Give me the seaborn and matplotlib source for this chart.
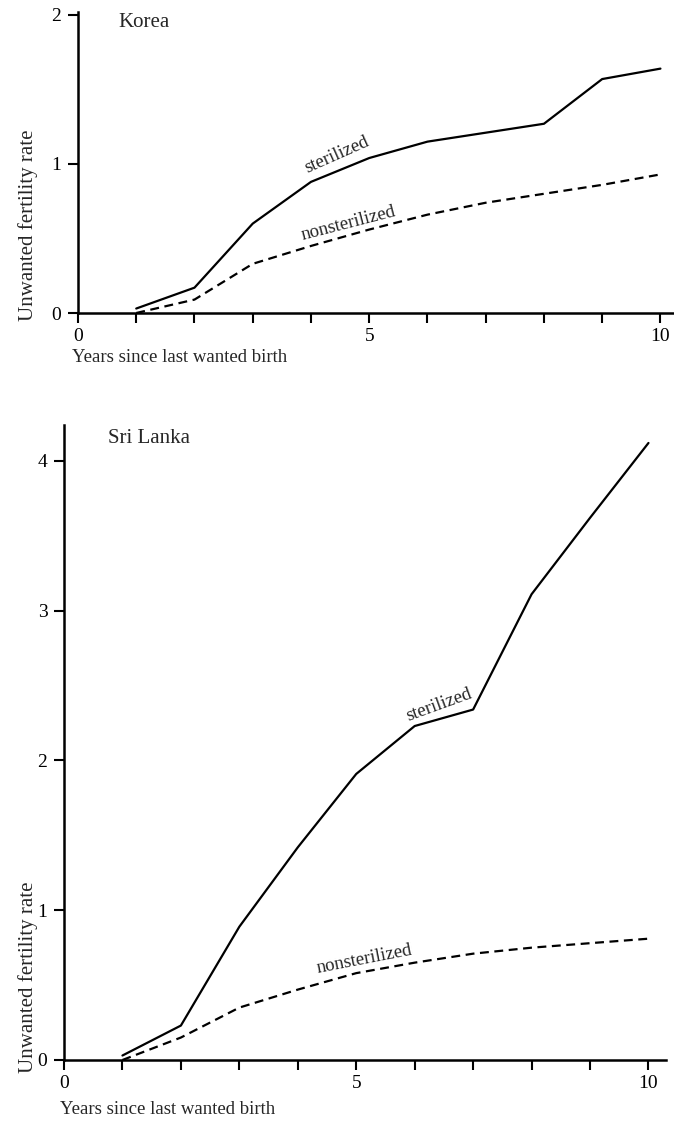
import pandas as pd
import matplotlib
matplotlib.use("Agg")
import matplotlib.pyplot as plt
import seaborn as sns

# Data
years = [1, 2, 3, 4, 5, 6, 7, 8, 9, 10]
korea_sterilized = [0.03, 0.17, 0.60, 0.88, 1.04, 1.15, 1.21, 1.27, 1.57, 1.64]
korea_nonsterilized = [0.0, 0.09, 0.33, 0.45, 0.56, 0.66, 0.74, 0.80, 0.86, 0.93]
srilanka_sterilized = [0.03, 0.23, 0.89, 1.42, 1.91, 2.23, 2.34, 3.11, 3.62, 4.12]
srilanka_nonsterilized = [0.0, 0.15, 0.35, 0.47, 0.58, 0.65, 0.71, 0.75, 0.78, 0.81]
groups = ["sterilized", "nonsterilized"]

sns.set_theme(style="ticks")
plt.rcParams["font.family"] = ["Liberation Serif", "DejaVu Serif"]

fig = plt.figure(figsize=(6.74, 11.21), dpi=100)
ax1 = fig.add_axes([78 / 674, 1 - 313 / 1121, 597 / 674, 301 / 1121])
ax2 = fig.add_axes([64 / 674, 1 - 1060 / 1121, 602 / 674, 635 / 1121])


def make_df(ster, nonster):
    return pd.DataFrame({
        "year": years * 2,
        "rate": ster + nonster,
        "group": [groups[0]] * len(years) + [groups[1]] * len(years),
    })


panels = [
    (ax1, make_df(korea_sterilized, korea_nonsterilized), 2.02, [0, 1, 2], 10.25),
    (ax2, make_df(srilanka_sterilized, srilanka_nonsterilized), 4.24, [0, 1, 2, 3, 4], 10.3),
]

for ax, df, ytop, yticks, xright in panels:
    sns.lineplot(data=df, x="year", y="rate", style="group", style_order=groups,
                 dashes={"sterilized": "", "nonsterilized": (4, 2.5)},
                 color="black", linewidth=1.6, legend=False, ax=ax)
    ax.set_xlim(0, xright)
    ax.set_ylim(0, ytop)
    ax.set_xticks(range(0, 11))
    ax.set_xticklabels(["0", "", "", "", "", "5", "", "", "", "", "10"])
    ax.set_yticks(yticks)
    ax.set_yticklabels([str(v) for v in yticks])
    ax.tick_params(axis="both", direction="out", length=7, width=1.5,
                   labelsize=14, color="black", labelcolor="black")
    ax.tick_params(axis="x", pad=4)
    ax.tick_params(axis="y", pad=5)
    sns.despine(ax=ax)
    for side in ["left", "bottom"]:
        ax.spines[side].set_linewidth(1.8)
        ax.spines[side].set_color("black")
    ax.set_xlabel("")
    ax.set_ylabel("")
    ax.patch.set_visible(False)

# panel titles
ax1.text(0.7, 1.95, "Korea", fontsize=15, ha="left", va="center")
ax2.text(0.75, 4.15, "Sri Lanka", fontsize=15, ha="left", va="center")

# line labels
ax1.text(4.45, 1.06, "sterilized", fontsize=13.5, rotation=24,
         ha="center", va="center", rotation_mode="anchor")
ax1.text(4.65, 0.60, "nonsterilized", fontsize=13.5, rotation=14.5,
         ha="center", va="center", rotation_mode="anchor")
ax2.text(6.42, 2.37, "sterilized", fontsize=13.5, rotation=20,
         ha="center", va="center", rotation_mode="anchor")
ax2.text(5.14, 0.67, "nonsterilized", fontsize=13.5, rotation=11,
         ha="center", va="center", rotation_mode="anchor")

# axis labels
fig.text(28 / 674, 1 - 225 / 1121, "Unwanted fertility rate", fontsize=15,
         rotation=90, ha="center", va="center")
fig.text(28 / 674, 1 - 977 / 1121, "Unwanted fertility rate", fontsize=15,
         rotation=90, ha="center", va="center")
fig.text(72 / 674, 1 - 358 / 1121, "Years since last wanted birth", fontsize=13.5,
         ha="left", va="center")
fig.text(60 / 674, 1 - 1110 / 1121, "Years since last wanted birth", fontsize=13.5,
         ha="left", va="center")

fig.savefig("out.png", dpi=100, facecolor="white")
